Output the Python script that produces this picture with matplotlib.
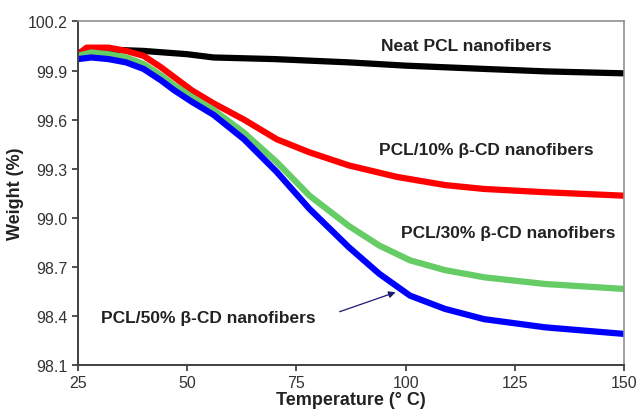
import matplotlib
matplotlib.use("Agg")
import matplotlib.pyplot as plt

plt.rcParams['font.family'] = ['Liberation Sans', 'DejaVu Sans']

# Data (Temperature °C, Weight %)
t_neat = [25, 30, 40, 50, 56, 70, 87, 100, 118, 132, 150]
w_neat = [100.01, 100.03, 100.02, 100.0, 99.98, 99.97, 99.95, 99.93, 99.91, 99.895, 99.883]

t_10 = [25, 27, 32, 36, 40, 44, 47, 51, 56, 63, 70.5, 78, 87, 98, 109, 118, 132, 150]
w_10 = [100.0, 100.04, 100.04, 100.02, 99.99, 99.92, 99.86, 99.78, 99.70, 99.60, 99.48, 99.40, 99.32, 99.25, 99.20, 99.176, 99.156, 99.135]

t_30 = [25, 28, 32, 36, 40, 44, 47, 51, 56, 63, 70.5, 78, 87, 94, 101, 109, 118, 132, 150]
w_30 = [99.99, 100.01, 100.0, 99.98, 99.94, 99.87, 99.81, 99.74, 99.66, 99.52, 99.34, 99.135, 98.95, 98.83, 98.74, 98.68, 98.636, 98.595, 98.565]

t_50 = [25, 28, 32, 36, 40, 44, 47, 51, 56, 63, 70.5, 78, 87, 94, 101, 109, 118, 132, 150]
w_50 = [99.97, 99.98, 99.97, 99.95, 99.91, 99.84, 99.78, 99.71, 99.63, 99.48, 99.28, 99.054, 98.82, 98.657, 98.524, 98.443, 98.38, 98.33, 98.29]

x_ticks = [25, 50, 75, 100, 125, 150]
y_ticks = [98.1, 98.4, 98.7, 99.0, 99.3, 99.6, 99.9, 100.2]
y_tick_labels = ['98.1', '98.4', '98.7', '99.0', '99.3', '99.6', '99.9', '100.2']

fig = plt.figure(figsize=(6.38, 4.14), dpi=100)
ax = fig.add_axes([0.1223, 0.116, 0.978 - 0.1223, 0.9457 - 0.116])

lw = 4.5
ax.plot(t_neat, w_neat, color='black', lw=lw, solid_joinstyle='round')
ax.plot(t_10, w_10, color='#ff0000', lw=lw, solid_joinstyle='round')
ax.plot(t_30, w_30, color='#66cc66', lw=lw, solid_joinstyle='round')
ax.plot(t_50, w_50, color='#0000ff', lw=lw, solid_joinstyle='round')

ax.set_xlim(25, 150)
ax.set_ylim(98.1, 100.2)
ax.set_xticks(x_ticks)
ax.set_yticks(y_ticks)
ax.set_yticklabels(y_tick_labels)
ax.tick_params(axis='both', labelsize=11.5, colors='#333333', direction='out', length=4, width=1.2)
ax.tick_params(axis='x', pad=3)

for side in ['left', 'bottom']:
    ax.spines[side].set_color('#404040')
    ax.spines[side].set_linewidth(1.4)
for side in ['top', 'right']:
    ax.spines[side].set_color('#909090')
    ax.spines[side].set_linewidth(1.2)

ax.set_xlabel('Temperature (° C)', fontsize=13, fontweight='bold', color='#222222', labelpad=1)
ax.set_ylabel('Weight (%)', fontsize=13, fontweight='bold', color='#222222', labelpad=3)

lab_kw = dict(fontsize=12.5, fontweight='bold', color='#222222', ha='center', va='center')
ax.text(113.8, 100.055, 'Neat PCL nanofibers', **lab_kw)
ax.text(118.4, 99.42, 'PCL/10% β-CD nanofibers', **lab_kw)
ax.text(123.5, 98.91, 'PCL/30% β-CD nanofibers', **lab_kw)
ax.text(54.8, 98.39, 'PCL/50% β-CD nanofibers', **lab_kw)

ax.annotate('', xy=(98.3, 98.55), xytext=(84.3, 98.42),
            arrowprops=dict(arrowstyle='-|>', color='#1a1a6e', lw=0.9, mutation_scale=10))

fig.savefig('out.png', dpi=100)
